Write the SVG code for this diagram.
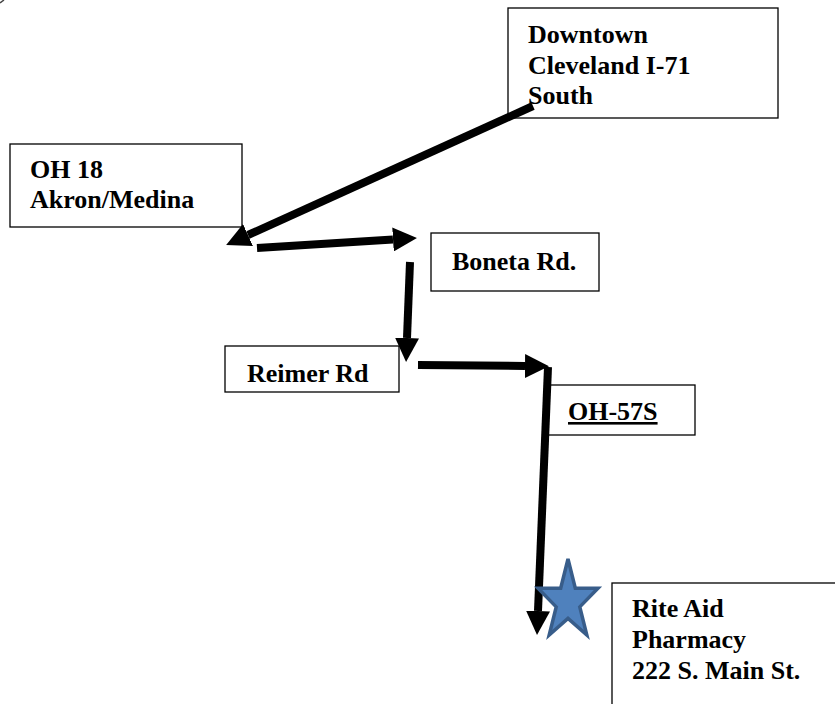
<svg xmlns="http://www.w3.org/2000/svg" width="835" height="704" viewBox="0 0 835 704">
<style>
.box{fill:#fff;stroke:#000;stroke-width:1.3}
.t{font-family:"Liberation Serif","Times New Roman",serif;font-weight:bold;font-size:26px;fill:#000}
.c{stroke:#000;stroke-width:8;fill:none}
</style>
<defs>
<marker id="ah" viewBox="0 0 10 10" refX="0" refY="5" markerWidth="24" markerHeight="24" markerUnits="userSpaceOnUse" orient="auto">
<path d="M0,0 L10,5 L0,10 Z" fill="#000"/>
</marker>
</defs>
<rect width="835" height="704" fill="#fff"/>
<path d="M0,3 L4,0" stroke="#444" stroke-width="1.5"/>
<g id="downtown">
<rect class="box" x="508" y="8" width="270" height="110"/>
<text class="t" x="528" y="43">Downtown</text>
<text class="t" x="528" y="74">Cleveland I-71</text>
<text class="t" x="528" y="104">South</text>
</g>
<g id="oh18">
<rect class="box" x="10" y="144" width="232" height="83"/>
<text class="t" x="30" y="178">OH 18</text>
<text class="t" x="30" y="208">Akron/Medina</text>
</g>
<g id="boneta">
<rect class="box" x="431" y="233" width="168" height="58"/>
<text class="t" x="452" y="270">Boneta Rd.</text>
</g>
<g id="reimer">
<rect class="box" x="225" y="346" width="174" height="46"/>
<text class="t" x="247" y="382">Reimer Rd</text>
</g>
<g id="oh57">
<rect class="box" x="548" y="385" width="147" height="50"/>
<text class="t" x="568" y="420" text-decoration="underline">OH-57S</text>
</g>
<g id="riteaid">
<rect class="box" x="612" y="583" width="230" height="130"/>
<text class="t" x="632" y="617">Rite Aid</text>
<text class="t" x="632" y="648">Pharmacy</text>
<text class="t" x="632" y="679">222 S. Main St.</text>
</g>
<g id="connectors">
<line class="c" x1="533" y1="106" x2="248" y2="235" marker-end="url(#ah)"/>
<line class="c" x1="257" y1="248" x2="393" y2="239.5" marker-end="url(#ah)"/>
<line class="c" x1="410" y1="262" x2="407" y2="338" marker-end="url(#ah)"/>
<line class="c" x1="418" y1="365" x2="525" y2="366" marker-end="url(#ah)"/>
<line class="c" x1="548" y1="367" x2="538" y2="611" marker-end="url(#ah)"/>
</g>
<g id="star">
<polygon points="568,559 575.3,588.2 598,588.2 579.8,606.9 586.8,635 568,618.4 549.2,635 556.2,606.9 538,588.2 560.7,588.2" fill="#4F81BD" stroke="#385D8A" stroke-width="3.5"/>
</g>
</svg>
